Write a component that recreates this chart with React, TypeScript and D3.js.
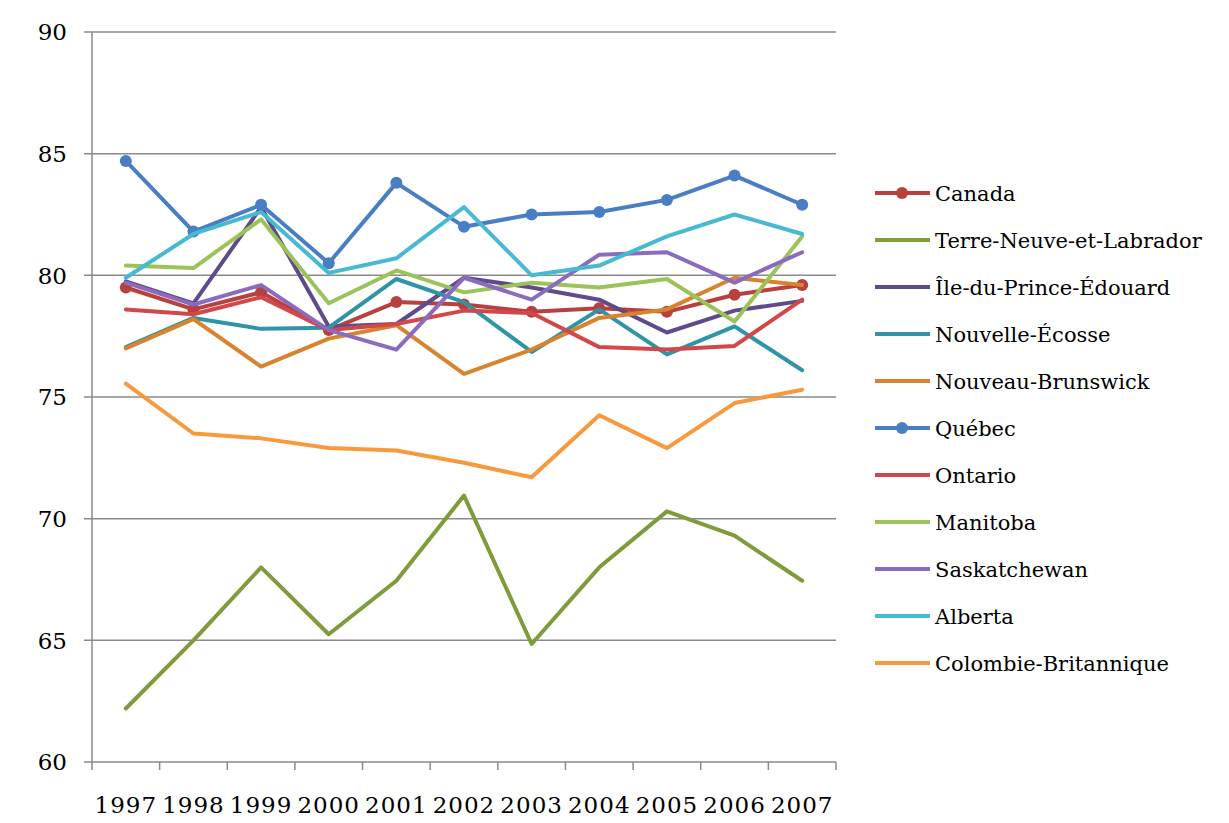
import React from 'react'
import * as d3 from 'd3'

const years = ['1997', '1998', '1999', '2000', '2001', '2002', '2003', '2004', '2005', '2006', '2007']
const yTicks = [60, 65, 70, 75, 80, 85, 90]

const canada = [79.5, 78.6, 79.3, 77.75, 78.9, 78.8, 78.5, 78.65, 78.5, 79.2, 79.6]
const terreNeuve = [62.2, 65.0, 68.0, 65.25, 67.45, 70.95, 64.85, 68.0, 70.3, 69.3, 67.45]
const ilePE = [79.75, 78.85, 82.8, 77.9, 78.0, 79.9, 79.5, 79.0, 77.65, 78.55, 78.95]
const nouvelleEcosse = [77.05, 78.25, 77.8, 77.85, 79.85, 78.9, 76.85, 78.6, 76.75, 77.9, 76.1]
const nouveauBrunswick = [77.0, 78.2, 76.25, 77.4, 77.95, 75.95, 76.95, 78.25, 78.6, 79.9, 79.6]
const quebec = [84.7, 81.8, 82.9, 80.5, 83.8, 82.0, 82.5, 82.6, 83.1, 84.1, 82.9]
const ontario = [78.6, 78.4, 79.1, 77.75, 78.0, 78.55, 78.45, 77.05, 76.95, 77.1, 79.0]
const manitoba = [80.4, 80.3, 82.3, 78.85, 80.2, 79.3, 79.7, 79.5, 79.85, 78.1, 81.6]
const saskatchewan = [79.7, 78.8, 79.6, 77.75, 76.95, 79.9, 79.0, 80.85, 80.95, 79.7, 80.95]
const alberta = [79.9, 81.7, 82.6, 80.1, 80.7, 82.8, 80.0, 80.4, 81.6, 82.5, 81.7]
const colombieBritannique = [75.55, 73.5, 73.3, 72.9, 72.8, 72.3, 71.7, 74.25, 72.9, 74.75, 75.3]

type Series = { name: string; values: number[]; color: string; marker: boolean }

const series: Series[] = [
  { name: 'Canada', values: canada, color: '#b8413f', marker: true },
  { name: 'Terre-Neuve-et-Labrador', values: terreNeuve, color: '#7f9b3c', marker: false },
  { name: 'Île-du-Prince-Édouard', values: ilePE, color: '#5f4b8b', marker: false },
  { name: 'Nouvelle-Écosse', values: nouvelleEcosse, color: '#2f95a6', marker: false },
  { name: 'Nouveau-Brunswick', values: nouveauBrunswick, color: '#d8832e', marker: false },
  { name: 'Québec', values: quebec, color: '#4a7ec4', marker: true },
  { name: 'Ontario', values: ontario, color: '#d2484a', marker: false },
  { name: 'Manitoba', values: manitoba, color: '#9cc25a', marker: false },
  { name: 'Saskatchewan', values: saskatchewan, color: '#8a6bbd', marker: false },
  { name: 'Alberta', values: alberta, color: '#47b9d2', marker: false },
  { name: 'Colombie-Britannique', values: colombieBritannique, color: '#f79a3e', marker: false },
]

const W = 1229
const H = 823
const font = '"DejaVu Serif", serif'

export default function App() {
  const x = d3.scaleBand<string>().domain(years).range([92, 836]).paddingInner(0).paddingOuter(0)
  const y = d3.scaleLinear().domain([60, 90]).range([762, 32])
  const cx = (yr: string) => (x(yr) || 0) + x.bandwidth() / 2

  const line = d3
    .line<number>()
    .x((_, i) => cx(years[i]))
    .y((d) => y(d))

  const grid = '#8a8a8a'
  const legendX = 875
  const legendY0 = 193
  const legendStep = 47

  return (
    <svg width={W} height={H} style={{ position: 'absolute', left: 0, top: 0, background: '#fff' }}>
      {/* gridlines + y labels */}
      {yTicks.map((t) => (
        <g key={t}>
          <line x1={84} x2={836} y1={y(t)} y2={y(t)} stroke={grid} strokeWidth={1.5} />
          <text x={67} y={y(t)} dy="0.36em" textAnchor="end" fontFamily={font} fontSize={23} fill="#000">
            {t}
          </text>
        </g>
      ))}
      <line x1={92} x2={92} y1={y(90)} y2={y(60)} stroke={grid} strokeWidth={1.5} />
      {years.map((yr) => (
        <line key={yr} x1={x(yr)} x2={x(yr)} y1={762} y2={770} stroke={grid} strokeWidth={1.5} />
      ))}
      <line x1={836} x2={836} y1={762} y2={770} stroke={grid} strokeWidth={1.5} />
      {years.map((yr) => (
        <text key={yr} x={cx(yr)} y={813} textAnchor="middle" fontFamily={font} fontSize={23} letterSpacing={1} fill="#000">
          {yr}
        </text>
      ))}

      {/* series */}
      {series.map((s) => (
        <g key={s.name}>
          <path d={line(s.values) || ''} fill="none" stroke={s.color} strokeWidth={4} strokeLinejoin="round" strokeLinecap="round" />
          {s.marker &&
            s.values.map((v, i) => <circle key={i} cx={cx(years[i])} cy={y(v)} r={6} fill={s.color} />)}
        </g>
      ))}

      {/* legend */}
      {series.map((s, i) => {
        const ly = legendY0 + i * legendStep
        return (
          <g key={s.name}>
            <line x1={legendX} x2={legendX + 55} y1={ly} y2={ly} stroke={s.color} strokeWidth={4} />
            {s.marker && <circle cx={legendX + 27} cy={ly} r={6} fill={s.color} />}
            <text x={legendX + 60} y={ly} dy="0.36em" fontFamily={font} fontSize={21} fill="#000">
              {s.name}
            </text>
          </g>
        )
      })}
    </svg>
  )
}
